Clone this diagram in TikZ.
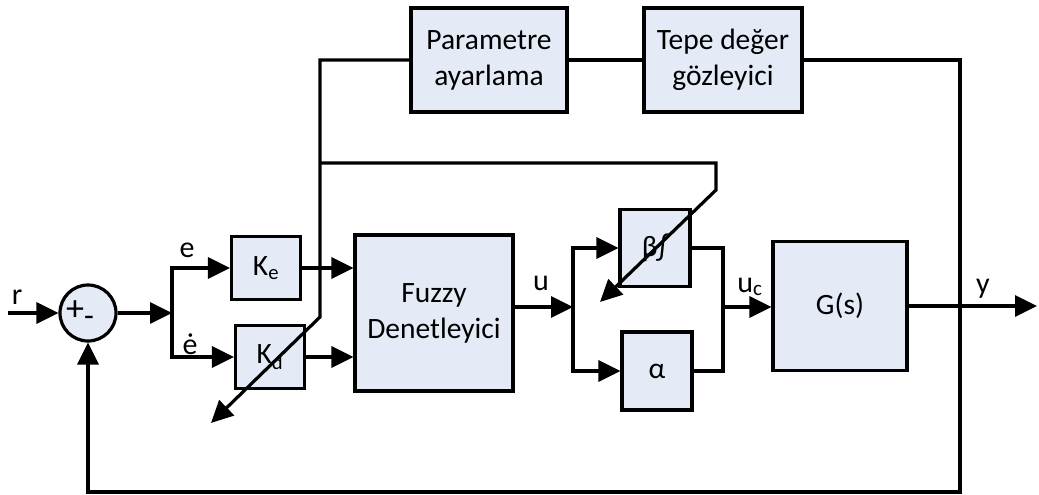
\documentclass[tikz,border=0pt]{standalone}
\usepackage{fontspec}
\setmainfont{Carlito}
\usepackage{tikz}
\usetikzlibrary{positioning}
\usetikzlibrary{arrows.meta}
\definecolor{blokfill}{RGB}{228,235,246}

\tikzset{
  blok/.style={draw, fill=blokfill, line width=3.2pt, inner sep=0pt, align=center,
    font=\fontsize{29.5}{36}\selectfont},
  lbl/.style={inner sep=0pt, font=\fontsize{30}{36}\selectfont},
  ok/.style={-{Triangle[length=22pt,width=21pt]}},
}

\begin{document}
\begin{tikzpicture}[x=1pt,y=-1pt,line width=3.2pt]
\useasboundingbox (0,0) rectangle (1039,495);
% bloklar
\node [blok, circle, minimum size=56pt] (top) at (88,313) {};
\node [blok, minimum width=69pt, minimum height=63pt] (ke) at (266,268) {K\textsubscript{e}};
\node [blok, minimum width=69pt, minimum height=63pt] (kd) at (270,357) {K\textsubscript{d}};
\node [blok, minimum width=158pt, minimum height=156pt] (fuzzy) at (434,313) {Fuzzy\\Denetleyici};
\node [blok, minimum width=70pt, minimum height=77pt] (beta) at (655,248) {β∫};
\node [blok, minimum width=70pt, minimum height=78pt] (alfa) at (657,371) {α};
\node [blok, minimum width=134pt, minimum height=129pt] (gs) at (840,306) {G(s)};
\node [blok, minimum width=156pt, minimum height=104pt] (param) at (489,60) {Parametre\\ayarlama};
\node [blok, minimum width=158pt, minimum height=104pt] (tepe) at (723,60) {Tepe değer\\gözleyici};
\node [lbl, font=\fontsize{36}{40}\selectfont] (arti) at (75,311) {+};
\node [lbl, font=\fontsize{32}{36}\selectfont] (eksi) at (89,321) {-};
% noktalar
\coordinate (rin) at (8,313);
\coordinate (j1) at (172,313);
\coordinate (j2) at (573,307);
\coordinate (j3) at (723,307);
\coordinate (j4) at (960,306);
\coordinate (yout) at (1037,306);
\coordinate (fb) at (960,492);
\coordinate (j5) at (320,163);
\coordinate (kdbend) at (320,317);
\coordinate (kdtip) at (211,423);
\coordinate (bbend1) at (716,163);
\coordinate (bbend2) at (716,190);
\coordinate (btip) at (600,302);
% baglantilar
\draw [ok] (rin) -- (top.west);
\draw [ok] (top.east) -- (j1);
\draw [ok] (j1) |- (ke.west);
\draw [ok] (j1) |- (kd.west);
\draw [ok] (ke.east) -- (ke.east -| fuzzy.west);
\draw [ok] (kd.east) -- (kd.east -| fuzzy.west);
\draw [ok] (fuzzy.east |- j2) -- (j2);
\draw [ok] (j2) |- (beta.west);
\draw [ok] (j2) |- (alfa.west);
\draw (beta.east) -| (j3) |- (alfa.east);
\draw [ok] (j3) -- (gs.west |- j3);
\draw [ok] (gs.east |- j4) -- (yout);
\draw [ok] (j4) -- (fb) -| (top.south);
\draw (j4) |- (tepe.east);
\draw (tepe.west) -- (param.east);
\draw [ok] (param.west) -| (j5) -- (kdbend) -- (kdtip);
\draw [ok] (j5) -- (bbend1) -- (bbend2) -- (btip);
% etiketler
\node [lbl] (r) at (17,297) {r};
\node [lbl] (e) at (187,250) {e};
\node [lbl] (edot) at (190,344) {ė};
\node [lbl] (u) at (541,283) {u};
\node [lbl] (uc) at (750,287) {u\textsubscript{c}};
\node [lbl] (y) at (983,289) {y};
\end{tikzpicture}
\end{document}
